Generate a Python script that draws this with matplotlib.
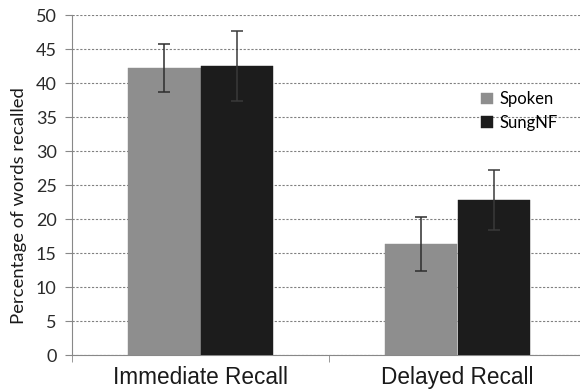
import matplotlib
matplotlib.use("Agg")
import matplotlib.pyplot as plt
import numpy as np

# recall scores per condition
conditions = ["Immediate Recall", "Delayed Recall"]
spoken = [42.2, 16.3]
spoken_err = [3.5, 3.95]
sung = [42.5, 22.8]
sung_err = [5.1, 4.4]

fig = plt.figure(figsize=(5.8, 3.92), dpi=100)
ax = fig.add_axes([72 / 580, 1 - 355 / 392, (586 - 72) / 580, 340 / 392])

x = np.arange(len(conditions))
w = 0.282
ax.bar(x - w / 2, spoken, w, color="#8e8e8e", label="Spoken", zorder=3,
       edgecolor="#8e8e8e", linewidth=0.3)
ax.bar(x + w / 2, sung, w, color="#1c1c1c", label="SungNF", zorder=3,
       edgecolor="#1c1c1c", linewidth=0.3)
ax.errorbar(x - w / 2, spoken, yerr=spoken_err, fmt="none", ecolor="#2e2e2e",
            elinewidth=1.1, capsize=4.5, capthick=1.1, zorder=4)
ax.errorbar(x + w / 2, sung, yerr=sung_err, fmt="none", ecolor="#3a3a3a",
            elinewidth=1.1, capsize=4.5, capthick=1.1, zorder=4)

ax.set_xlim(-0.5, 1.5)
ax.set_ylim(0, 50)
ax.set_yticks(range(0, 51, 5))
ax.set_xticks([-0.5, 0.5, 1.5], minor=True)
ax.set_xticks(x)
ax.set_xticklabels(conditions, fontsize=16.3, family="Liberation Sans", color="#1a1a1a")
ax.tick_params(axis="x", which="major", length=0, pad=8)
ax.tick_params(axis="x", which="minor", length=5, color="#888888", direction="out")
ax.tick_params(axis="y", length=5, color="#888888", labelsize=13,
               labelcolor="#2a2a2a", pad=6)
for lab in ax.get_yticklabels():
    lab.set_family("Lato")

ax.grid(axis="y", color="#808080", linestyle=(0, (2, 1.5)), linewidth=0.8, zorder=0)
for s in ("top", "right"):
    ax.spines[s].set_visible(False)
ax.spines["left"].set_color("#888888")
ax.spines["bottom"].set_color("#888888")

ax.set_ylabel("Percentage of words recalled", fontsize=13.3, family="Lato",
              color="#1a1a1a")
ax.yaxis.set_label_coords(-0.088, 0.44)

leg = ax.legend(loc="upper left", bbox_to_anchor=(0.767, 0.82), frameon=False,
                prop={"family": "Lato", "size": 12}, handlelength=0.7,
                handleheight=0.7, handletextpad=0.4, labelspacing=0.45)

fig.savefig("out.png", dpi=100)
